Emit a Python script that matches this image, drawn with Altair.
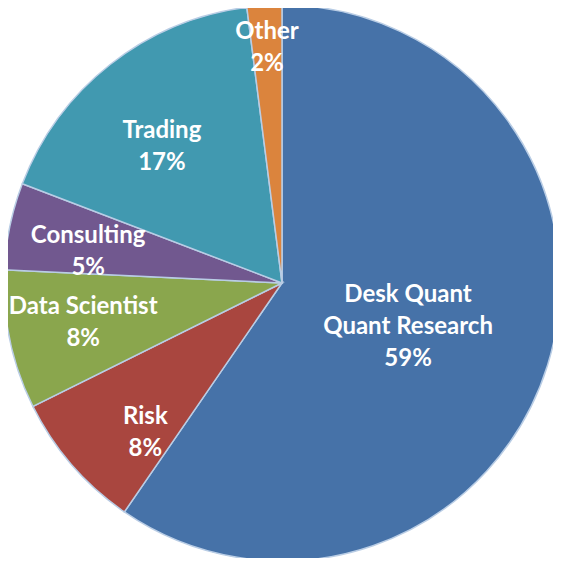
import altair as alt
import pandas as pd

categories = ["Desk Quant\nQuant Research", "Risk", "Data Scientist", "Consulting", "Trading", "Other"]
values = [59, 8, 8, 5, 17, 2]
colors = ["#4672A8", "#A9463F", "#8AA64D", "#71588F", "#4199B0", "#DB843D"]

df = pd.DataFrame({"category": categories, "value": values, "order": list(range(len(values)))})

CX, CY, R = 274, 275, 278

base = alt.Chart(df).transform_calculate(
    label="datum.category + '\\n' + format(datum.value, 'd') + '%'"
).encode(
    theta=alt.Theta("value:Q", stack=True),
    order=alt.Order("order:Q"),
)

pie = base.mark_arc(outerRadius=R, stroke="#B9CDE5", strokeWidth=1.5).encode(
    color=alt.Color("category:N", scale=alt.Scale(domain=categories, range=colors), legend=None),
    x=alt.value(CX), y=alt.value(CY),
)

def labels(cond, radius, dx=0, dy=-16):
    return base.transform_calculate(
        lbl=f"({cond}) ? datum.label : ''"
    ).mark_text(
        radius=radius, dx=dx, dy=dy, font="Lato", fontWeight="bold", fontSize=24,
        lineHeight=32, lineBreak="\n", color="white", align="center", baseline="middle"
    ).encode(text="lbl:N", x=alt.value(CX), y=alt.value(CY))

t_desk = labels("datum.order == 0", 132, dy=-27)
t_risk = labels("datum.order == 1", 198, dx=13, dy=4)
t_ds = labels("datum.order == 2", 198, dx=-5, dy=-17)
t_cons = labels("datum.order == 3", 198, dy=-6)
t_trad = labels("datum.order == 4", 183, dx=-7, dy=-8)
t_oth = labels("datum.order == 5", 237, dy=-14)

chart = alt.layer(pie, t_desk, t_risk, t_ds, t_cons, t_trad, t_oth).properties(
    width=545, height=550, padding=0,
    autosize=alt.AutoSizeParams(type="none"),
).configure_view(stroke=None)

chart.save("out.html", embed_options={"renderer": "svg", "actions": False})
